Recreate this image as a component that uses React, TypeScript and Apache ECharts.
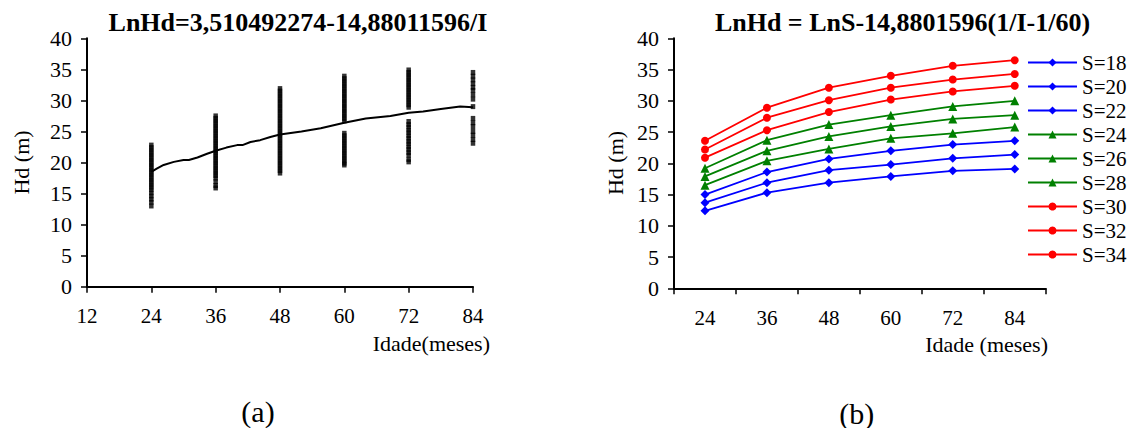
import React, { useEffect, useRef } from 'react';
import * as echarts from 'echarts';

const FONT = '"Liberation Serif", "Times New Roman", Times, serif';

// ---------- (a) observed dominant heights by age (months) ----------
const hdAge24 = [22.8, 22.4, 22.0, 21.6, 21.2, 20.8, 20.4, 20.0, 19.6, 19.2, 18.8, 18.4, 18.0, 17.6, 17.2, 16.8, 16.4, 16.0, 15.6, 15.1, 14.6, 14.1, 13.6, 13.0];
const hdAge36 = [27.5, 27.1, 26.7, 26.3, 25.9, 25.5, 25.1, 24.7, 24.3, 23.9, 23.5, 23.1, 22.7, 22.3, 21.9, 21.5, 21.1, 20.7, 20.3, 19.9, 19.5, 19.1, 18.7, 18.3, 17.9, 17.5, 16.9, 16.3, 15.9];
const hdAge48 = [31.9, 31.5, 31.1, 30.7, 30.3, 29.9, 29.5, 29.1, 28.7, 28.3, 27.9, 27.5, 27.1, 26.7, 26.3, 25.9, 25.5, 25.1, 24.7, 24.3, 23.9, 23.5, 23.1, 22.7, 22.3, 21.9, 21.5, 21.1, 20.7, 20.3, 19.9, 19.5, 19.1, 18.7, 18.3];
const hdAge60 = [33.9, 33.5, 33.1, 32.7, 32.3, 31.9, 31.5, 31.1, 30.7, 30.3, 29.9, 29.5, 29.1, 28.7, 28.3, 27.9, 27.5, 27.1, 26.7, 24.7, 24.3, 23.9, 23.5, 23.1, 22.7, 22.3, 21.9, 21.5, 21.1, 20.7, 20.3, 19.9, 19.6];
const hdAge72 = [34.9, 34.5, 34.1, 33.7, 33.3, 32.9, 32.5, 32.1, 31.7, 31.3, 30.9, 30.5, 30.1, 29.7, 29.3, 28.9, 26.6, 26.1, 25.7, 25.2, 24.8, 24.3, 23.9, 23.4, 23.0, 22.5, 22.1, 21.6, 21.2, 20.5, 20.1];
const hdAge84 = [34.5, 33.9, 33.3, 32.7, 32.1, 31.6, 30.9, 30.2, 29.0, 27.1, 26.4, 25.8, 25.0, 24.4, 23.7, 23.1];

// fitted curve LnHd = 3,510492274 - 14,88011596/I
const curveAge = [24, 25, 26.3, 28.2, 30, 31, 32.6, 34.4, 36, 38, 40, 41, 42.5, 44.3, 46.2, 48, 52, 55.6, 60, 64, 68.6, 72, 74.7, 78, 81.6, 84];
const curveHd = [18.5, 19.0, 19.6, 20.1, 20.4, 20.4, 20.8, 21.4, 21.9, 22.4, 22.8, 22.8, 23.3, 23.6, 24.1, 24.5, 25.0, 25.5, 26.4, 27.1, 27.5, 28.0, 28.2, 28.6, 29.0, 28.9];

// ---------- (b) site index curves ----------
const ageCategories = ['24', '36', '48', '60', '72', '84'];
const siteLabels = ['S=18', 'S=20', 'S=22', 'S=24', 'S=26', 'S=28', 'S=30', 'S=32', 'S=34'];
const s18 = [12.4, 15.3, 16.9, 17.9, 18.8, 19.1];
const s20 = [13.7, 16.9, 18.9, 19.8, 20.8, 21.4];
const s22 = [15.0, 18.6, 20.7, 22.0, 23.0, 23.6];
const s24 = [16.5, 20.4, 22.3, 24.0, 24.8, 25.8];
const s26 = [17.9, 22.0, 24.3, 25.9, 27.1, 27.7];
const s28 = [19.2, 23.7, 26.2, 27.7, 29.1, 30.0];
const s30 = [20.9, 25.3, 28.2, 30.2, 31.5, 32.4];
const s32 = [22.2, 27.3, 30.1, 32.1, 33.4, 34.3];
const s34 = [23.6, 28.9, 32.1, 34.0, 35.6, 36.5];
const siteValues = [s18, s20, s22, s24, s26, s28, s30, s32, s34];
const siteColors = ['#0000FF', '#0000FF', '#0000FF', '#008000', '#008000', '#008000', '#FF0000', '#FF0000', '#FF0000'];
const siteSymbols = ['diamond', 'diamond', 'diamond', 'triangle', 'triangle', 'triangle', 'circle', 'circle', 'circle'];
const siteSymbolSizes = [9, 9, 9, 9, 9, 9, 8, 8, 8];

const scatterGroups: [number, number[]][] = [
  [24, hdAge24], [36, hdAge36], [48, hdAge48], [60, hdAge60], [72, hdAge72], [84, hdAge84],
];

function txt(text: string, x: number, y: number, size: number, align: string, bold = false, rotation = 0) {
  return {
    type: 'text',
    x, y, rotation,
    silent: true,
    style: {
      text,
      fontSize: size,
      fontFamily: FONT,
      fontWeight: bold ? 'bold' : 'normal',
      fill: '#000',
      textAlign: align,
      textVerticalAlign: 'middle',
      align,
      verticalAlign: 'middle',
    },
  };
}

export default function App() {
  const ref = useRef<HTMLDivElement>(null);
  useEffect(() => {
    if (!ref.current) return;
    const chart = echarts.init(ref.current, undefined, { renderer: 'svg' });

    const axisLine = { show: true, lineStyle: { color: '#000', width: 2 } };
    const axisTick = { show: true, inside: false, length: 6, lineStyle: { color: '#000', width: 1.5 } };

    const scatterData: number[][] = [];
    scatterGroups.forEach(([age, vals]) => vals.forEach(v => scatterData.push([age, v])));

    const option: any = {
      animation: false,
      backgroundColor: '#fff',
      textStyle: { fontFamily: FONT, color: '#000' },
      grid: [
        { left: 87, top: 38.3, width: 386, height: 248.4, containLabel: false },
        { left: 674, top: 38.3, width: 371.7, height: 250, containLabel: false },
      ],
      xAxis: [
        {
          gridIndex: 0, type: 'value', min: 12, max: 84, interval: 12,
          axisLine, axisTick, splitLine: { show: false },
          axisLabel: { fontSize: 21, fontFamily: FONT, color: '#000', margin: 19 },
        },
        {
          gridIndex: 1, type: 'category', data: ageCategories, boundaryGap: true,
          axisLine, axisTick: { ...axisTick, alignWithLabel: false }, splitLine: { show: false },
          axisLabel: { fontSize: 21, fontFamily: FONT, color: '#000', margin: 19 },
        },
      ],
      yAxis: [
        {
          gridIndex: 0, type: 'value', min: 0, max: 40, interval: 5,
          axisLine, axisTick, splitLine: { show: false },
          axisLabel: { fontSize: 22, fontFamily: FONT, color: '#000', margin: 15 },
        },
        {
          gridIndex: 1, type: 'value', min: 0, max: 40, interval: 5,
          axisLine, axisTick, splitLine: { show: false },
          axisLabel: { fontSize: 22, fontFamily: FONT, color: '#000', margin: 15 },
        },
      ],
      legend: {
        orient: 'vertical', left: 1027, top: 52, padding: 0,
        itemWidth: 49, itemHeight: 10, itemGap: 3,
        data: siteLabels,
        textStyle: { fontSize: 21, fontFamily: FONT, color: '#000' },
      },
      graphic: [
        txt('LnHd=3,510492274-14,88011596/I', 298, 22, 26, 'center', true),
        txt('LnHd = LnS-14,8801596(1/I-1/60)', 902.5, 22, 26, 'center', true),
        txt('Hd (m)', 21, 162.5, 22, 'center', false, Math.PI / 2),
        txt('Hd (m)', 615, 163, 22, 'center', false, Math.PI / 2),
        txt('Idade(meses)', 490, 343, 22, 'right'),
        txt('Idade (meses)', 1048, 344.5, 22, 'right'),
        txt('(a)', 258, 411.7, 30, 'center'),
        txt('(b)', 856.7, 413, 30, 'center'),
      ],
      series: [
        {
          name: 'Hd observada', type: 'scatter', xAxisIndex: 0, yAxisIndex: 0,
          symbol: 'rect', symbolSize: [4.5, 5],
          itemStyle: { color: '#000' },
          data: scatterData, z: 2,
        },
        {
          name: 'Hd estimada', type: 'line', xAxisIndex: 0, yAxisIndex: 0,
          showSymbol: false, symbol: 'none',
          lineStyle: { color: '#000', width: 2 },
          data: curveAge.map((a, i) => [a, curveHd[i]]), z: 3,
        },
        ...siteLabels.map((name, i) => ({
          name, type: 'line', xAxisIndex: 1, yAxisIndex: 1,
          symbol: siteSymbols[i], symbolSize: siteSymbolSizes[i],
          itemStyle: { color: siteColors[i] },
          lineStyle: { color: siteColors[i], width: 1.8 },
          data: siteValues[i],
        })),
      ],
    };
    chart.setOption(option);
    return () => chart.dispose();
  }, []);

  return <div ref={ref} style={{ position: 'fixed', left: 0, top: 0, width: 1136, height: 428, background: '#fff' }} />;
}
